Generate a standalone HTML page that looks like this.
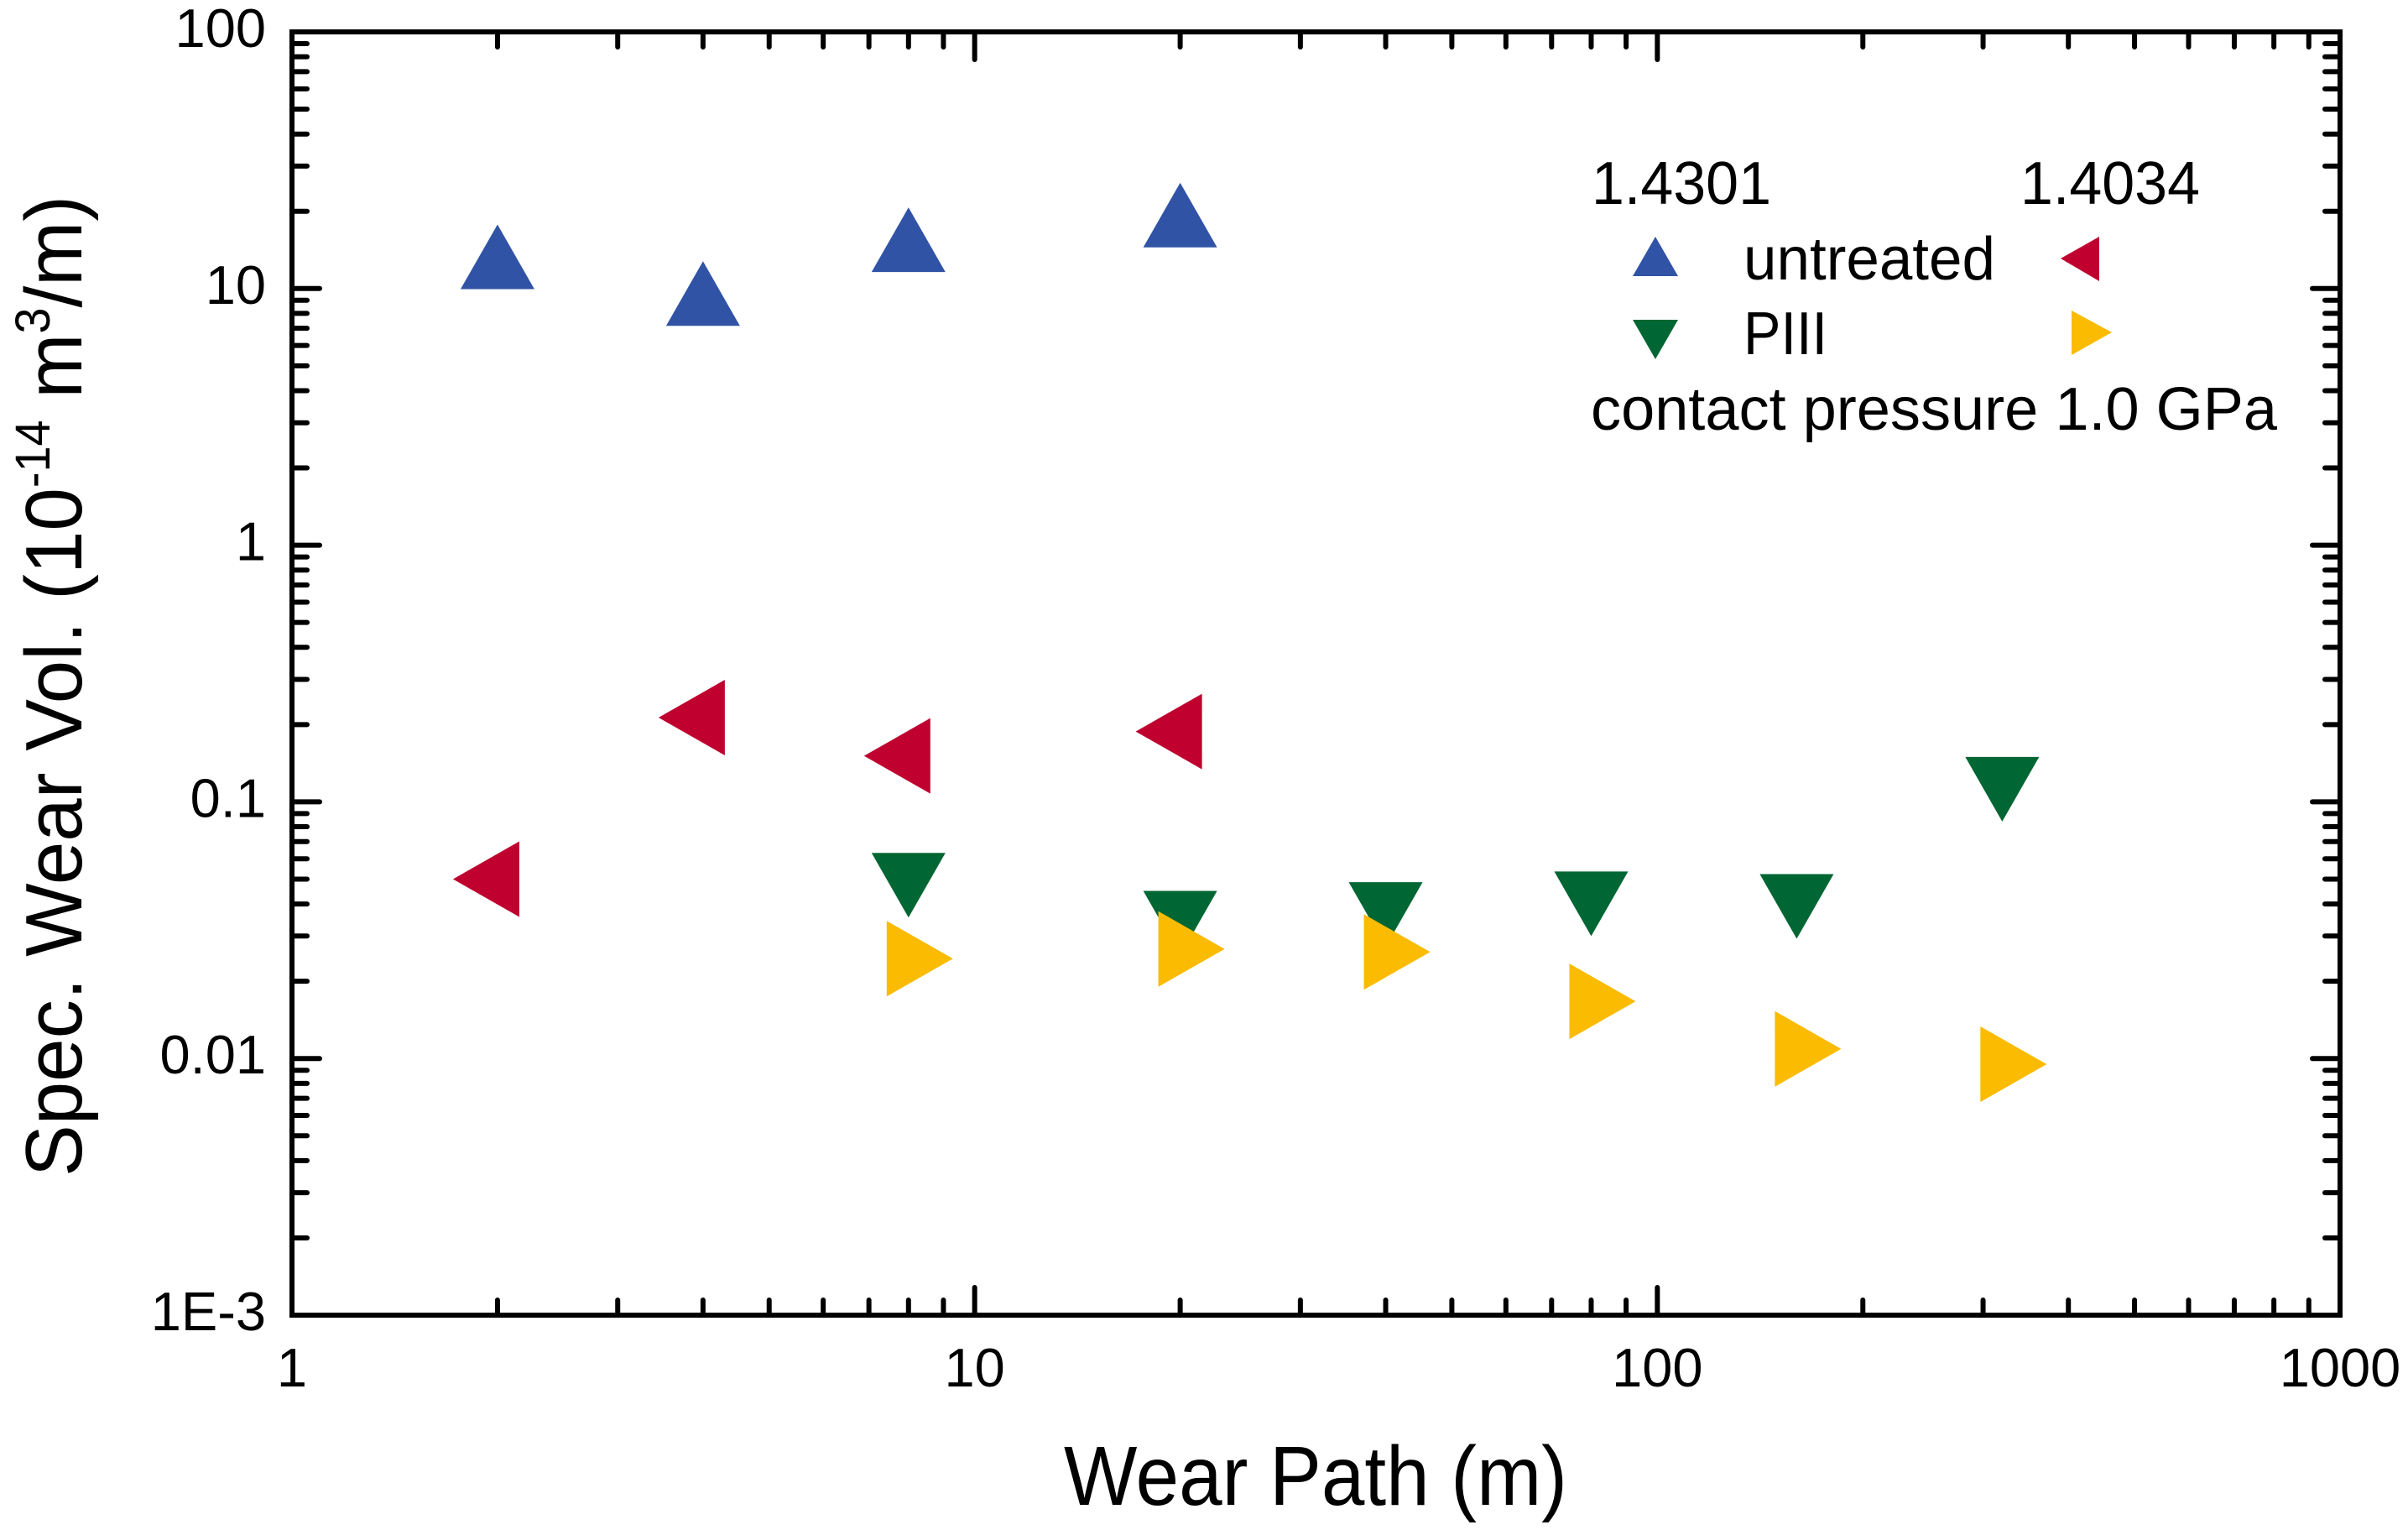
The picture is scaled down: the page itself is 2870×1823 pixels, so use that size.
<!DOCTYPE html>
<html><head><meta charset="utf-8"><style>
html,body{margin:0;padding:0;background:#fff;}
svg{display:block;font-family:"Liberation Sans",Arial,sans-serif;}
</style></head><body>
<svg id="chart" width="2870" height="1823" viewBox="0 0 2870 1823" xmlns="http://www.w3.org/2000/svg">
<g id="ticks"></g>
<g id="labels"></g>
<rect x="348" y="38" width="2441" height="1529" fill="none" stroke="#000" stroke-width="6"/>
<g id="marks"></g>
<text x="1568" y="1793" font-size="100" text-anchor="middle" textLength="600" lengthAdjust="spacingAndGlyphs">Wear Path (m)</text>
<text transform="translate(97,1402) rotate(-90)" font-size="96" textLength="1169" lengthAdjust="spacingAndGlyphs">Spec. Wear Vol. (10<tspan dy="-38" font-size="58">-14</tspan><tspan dy="38"> m</tspan><tspan dy="-38" font-size="58">3</tspan><tspan dy="38">/m)</tspan></text>
<g font-size="72">
<text x="1897" y="243" textLength="214" lengthAdjust="spacingAndGlyphs">1.4301</text>
<text x="2408" y="243" textLength="214" lengthAdjust="spacingAndGlyphs">1.4034</text>
<polygon points="1973,350 1946,397 2000,397" fill="#3153A6" transform="translate(0,-68)"/>
<text x="2078" y="333" textLength="300" lengthAdjust="spacingAndGlyphs">untreated</text>
<polygon points="2456,308 2502,282 2502,335" fill="#C0002F"/>
<polygon points="1946,381 2000,381 1973,428" fill="#006633"/>
<text x="2078" y="422" textLength="100" lengthAdjust="spacingAndGlyphs">PIII</text>
<polygon points="2469,370 2517,396 2469,423" fill="#FABB00"/>
<text x="1896" y="512" textLength="818" lengthAdjust="spacingAndGlyphs">contact pressure 1.0 GPa</text>
</g>
</svg>
<script>
const xUntreated = [2, 4, 8, 20];
const y14301Untreated = [12.1, 8.7, 14.1, 17.6];
const y14034Untreated = [0.050, 0.213, 0.151, 0.188];
const xPIII = [8, 20, 40, 80, 160, 320];
const y14301PIII = [0.052, 0.037, 0.040, 0.044, 0.043, 0.123];
const y14034PIII = [0.0245, 0.0267, 0.026, 0.0167, 0.0109, 0.0095];
const xTickLabels = ["1", "10", "100", "1000"];
const yTickLabels = ["1E-3", "0.01", "0.1", "1", "10", "100"];

const L = 348, R = 2789, T = 38, B = 1567;
function xs(v){ return L + Math.log10(v) * (R - L) / 3; }
function ys(v){ return B - (Math.log10(v) + 3) * (B - T) / 5; }
const NS = "http://www.w3.org/2000/svg";
const ticks = document.getElementById('ticks');
const labels = document.getElementById('labels');
const marks = document.getElementById('marks');
function line(x1,y1,x2,y2,name){
  const l = document.createElementNS(NS,'line');
  l.setAttribute('x1',x1);l.setAttribute('y1',y1);l.setAttribute('x2',x2);l.setAttribute('y2',y2);
  l.setAttribute('stroke','#000');l.setAttribute('stroke-width','6');l.setAttribute('stroke-linecap','round');
  
  
  ticks.appendChild(l);
}
for (let d = 0; d < 3; d++) {
  for (let m = 1; m <= 9; m++) {
    const v = Math.pow(10, d) * m;
    if (m === 1 && d === 0) continue;
    const x = xs(v), len = m === 1 ? 33 : 18;
    line(x, B, x, B - len, 'x-tick');
    line(x, T, x, T + len, 'x-tick-top');
  }
}
for (let d = -3; d < 2; d++) {
  for (let m = 1; m <= 9; m++) {
    const v = Math.pow(10, d) * m;
    if (m === 1 && d === -3) continue;
    const y = ys(v), len = m === 1 ? 33 : 18;
    line(L, y, L + len, y, 'y-tick');
    line(R, y, R - len, y, 'y-tick-right');
  }
}
xTickLabels.forEach((t, i) => {
  const e = document.createElementNS(NS,'text');
  e.setAttribute('x', xs(Math.pow(10, i)));
  e.setAttribute('y', 1652);
  e.setAttribute('font-size', 65);
  e.setAttribute('text-anchor', 'middle');
  e.textContent = t;
  
  
  labels.appendChild(e);
});
yTickLabels.forEach((t, i) => {
  const e = document.createElementNS(NS,'text');
  e.setAttribute('x', 317);
  e.setAttribute('y', ys(Math.pow(10, i - 3)) + 18);
  e.setAttribute('font-size', 65);
  e.setAttribute('text-anchor', 'end');
  e.textContent = t;
  
  
  labels.appendChild(e);
});
function tri(cx, cy, dir, color, name){
  let pts;
  if (dir === 'up') pts = [[cx, cy-51],[cx-44, cy+26],[cx+44, cy+26]];
  else if (dir === 'down') pts = [[cx-44, cy-26],[cx+44, cy-26],[cx, cy+51]];
  else if (dir === 'left') pts = [[cx-53, cy],[cx+26, cy-45],[cx+26, cy+45]];
  else pts = [[cx+53, cy],[cx-26, cy-45],[cx-26, cy+45]];
  const p = document.createElementNS(NS,'polygon');
  p.setAttribute('points', pts.map(q => q.join(',')).join(' '));
  p.setAttribute('fill', color);
  
  
  marks.appendChild(p);
}
xUntreated.forEach((x, i) => tri(xs(x), ys(y14301Untreated[i]), 'up', '#3153A6', 'point-1-4301-untreated'));
xUntreated.forEach((x, i) => tri(xs(x), ys(y14034Untreated[i]), 'left', '#C0002F', 'point-1-4034-untreated'));
xPIII.forEach((x, i) => tri(xs(x), ys(y14301PIII[i]), 'down', '#006633', 'point-1-4301-piii'));
xPIII.forEach((x, i) => tri(xs(x), ys(y14034PIII[i]), 'right', '#FABB00', 'point-1-4034-piii'));
</script>
</body></html>
